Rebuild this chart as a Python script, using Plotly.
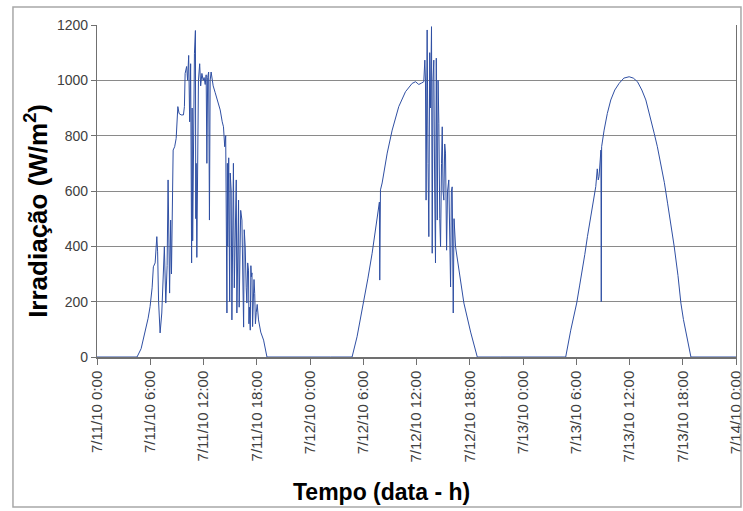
import plotly.graph_objects as go

# Irradiance samples: hours elapsed since 7/11/10 0:00 and W/m2
hours_d1 = [0.0, 4.51, 4.97, 5.42, 5.76, 5.98, 6.21, 6.35, 6.55, 6.74, 6.83, 6.94, 7.11, 7.30,
            7.45, 7.59, 7.75, 7.90, 8.01, 8.07, 8.18, 8.30, 8.39, 8.58, 8.75, 8.92, 9.11, 9.25,
            9.48, 9.74, 9.85, 9.93, 10.10, 10.21, 10.33, 10.44, 10.55, 10.66, 10.72, 10.78, 10.89,
            10.98, 11.09, 11.13, 11.17, 11.25, 11.34, 11.43, 11.57, 11.68, 11.82, 11.96, 12.07, 12.19,
            12.30, 12.38, 12.47, 12.58, 12.67, 12.75, 12.86, 13.09, 13.32, 13.60, 13.88, 14.11,
            14.25, 14.39, 14.50, 14.64, 14.69, 14.73, 14.84, 14.95, 15.01, 15.12, 15.20, 15.29, 15.37,
            15.47, 15.57, 15.69, 15.76, 15.85, 15.95, 16.02, 16.08, 16.19, 16.33, 16.42, 16.52, 16.59,
            16.70, 16.81, 16.89, 16.98, 17.07, 17.12, 17.17, 17.27, 17.34, 17.39, 17.46, 17.53, 17.61,
            17.69, 17.77, 17.85, 17.94, 18.05, 18.20, 18.45, 18.77, 18.96, 19.15]
irr_d1 = [0, 0, 30, 87, 140, 182, 250, 326, 340, 435, 380, 200, 87, 159,
          300, 399, 195, 330, 640, 375, 231, 495, 300, 748, 760, 790, 905, 880,
          875, 875, 905, 1025, 1050, 1000, 1090, 850, 1060, 340, 900, 420, 1040,
          1098, 1180, 500, 700, 360, 900, 1000, 1060, 980, 1025, 1000, 1010, 985,
          1020, 700, 1010, 1030, 495, 1000, 1030, 980, 955, 920, 893, 850,
          832, 760, 800, 159, 700, 400, 720, 200, 665, 600, 134, 420, 700,
          250, 434, 640, 159, 400, 567, 180, 300, 530, 495, 250, 108, 460,
          398, 250, 195, 340, 314, 120, 180, 97, 330, 290, 304, 110, 200,
          280, 230, 120, 160, 190, 134, 90, 61, 25, 0]

hours_d2 = [26.3, 28.74, 29.30, 30.05, 30.53, 31.00, 31.37, 31.74, 31.82, 31.86, 31.94, 32.13,
            32.70, 33.26, 34.00, 34.76, 35.51, 35.89, 36.26, 36.56, 36.82, 36.94, 37.01, 37.08,
            37.20, 37.30, 37.39, 37.49, 37.58, 37.69, 37.77, 37.86, 37.95, 38.05, 38.14, 38.23,
            38.34, 38.43, 38.52, 38.62, 38.71, 38.82, 38.90, 38.99, 39.08, 39.18, 39.27, 39.39,
            39.50, 39.64, 39.74, 39.84, 39.93, 40.02, 40.14, 40.23, 40.40, 40.85, 41.34, 42.10,
            42.85, 45.5]
irr_d2 = [0, 0, 73, 195, 285, 375, 460, 543, 560, 278, 604, 629,
          737, 820, 905, 959, 989, 995, 985, 990, 995, 1073, 1000, 567,
          1182, 700, 435, 1100, 900, 1194, 375, 1000, 1073, 600, 340, 1080,
          495, 1000, 845, 500, 398, 700, 832, 600, 567, 770, 737, 386,
          600, 640, 420, 253, 600, 615, 159, 500, 398, 300, 195, 90,
          0, 0]

hours_d3 = [52.81, 53.38, 53.75, 54.05, 54.39, 54.70, 54.96, 55.26, 55.52, 55.82, 56.20, 56.37,
            56.48, 56.57, 56.68, 56.78, 56.82, 56.86, 57.14, 57.50, 57.89, 58.34, 58.83, 59.36,
            59.96, 60.43, 60.90, 61.39, 61.84, 62.29, 62.78, 63.14, 63.53, 63.93, 64.29, 64.66,
            65.04, 65.46, 65.79, 66.08, 66.36, 66.92, 72.0]
irr_d3 = [0, 97, 146, 195, 260, 314, 370, 435, 490, 543, 616, 680,
          640, 652, 720, 748, 200, 760, 820, 880, 929, 965, 989, 1008,
          1013, 1008, 995, 965, 929, 875, 809, 760, 700, 630, 556, 480,
          399, 295, 195, 135, 87, 0, 0]

tick_hours = [0, 6, 12, 18, 24, 30, 36, 42, 48, 54, 60, 66, 72]
tick_labels = ["7/11/10 0:00", "7/11/10 6:00", "7/11/10 12:00", "7/11/10 18:00",
               "7/12/10 0:00", "7/12/10 6:00", "7/12/10 12:00", "7/12/10 18:00",
               "7/13/10 0:00", "7/13/10 6:00", "7/13/10 12:00", "7/13/10 18:00",
               "7/14/10 0:00"]

hours = hours_d1 + hours_d2 + hours_d3
irr = irr_d1 + irr_d2 + irr_d3

font_family = "Liberation Sans, Arial, sans-serif"
grid_color = "#8a8a8a"

fig = go.Figure()
fig.add_trace(go.Scatter(
    x=hours, y=irr, mode="lines",
    line=dict(color="#2f4fa3", width=1),
    showlegend=False, hoverinfo="skip",
))

fig.update_layout(
    width=743, height=511,
    margin=dict(l=97, r=7, t=25, b=154, autoexpand=False),
    paper_bgcolor="white", plot_bgcolor="white",
    font=dict(family=font_family, color="#404040"),
    xaxis=dict(
        range=[0, 72], tickmode="array", tickvals=tick_hours, ticktext=tick_labels,
        tickangle=-90, tickfont=dict(size=15, color="#404040"),
        ticklabeloverflow="allow", automargin=False,
        ticks="outside", ticklen=6, tickcolor="#707070",
        showgrid=False, zeroline=False,
        showline=True, linecolor="#707070", linewidth=1.5,
    ),
    yaxis=dict(
        range=[0, 1200], dtick=200, tickfont=dict(size=14, color="#404040"),
        automargin=False,
        ticks="outside", ticklen=5, tickcolor="#707070",
        showgrid=True, gridcolor=grid_color, gridwidth=1,
        zeroline=False, showline=True, linecolor="#707070", linewidth=1.2,
        mirror=True,
    ),
    annotations=[
        dict(text="Irradiação (W/m<sup>2</sup>)", xref="paper", yref="paper",
             x=-0.094, y=0.44, textangle=-90, showarrow=False,
             xanchor="center", yanchor="middle",
             font=dict(size=26, color="black", family=font_family, weight="bold")),
        dict(text="Tempo (data - h)", xref="paper", yref="paper",
             x=0.446, y=-0.407, showarrow=False, xanchor="center", yanchor="middle",
             font=dict(size=23, color="black", family=font_family, weight="bold")),
    ],
    shapes=[
        dict(type="rect", xref="paper", yref="paper",
             x0=-0.1315, x1=1.0078, y0=-0.452, y1=1.054,
             line=dict(color="#a8a8a8", width=1.5)),
    ],
)

fig.write_html("out.html")
